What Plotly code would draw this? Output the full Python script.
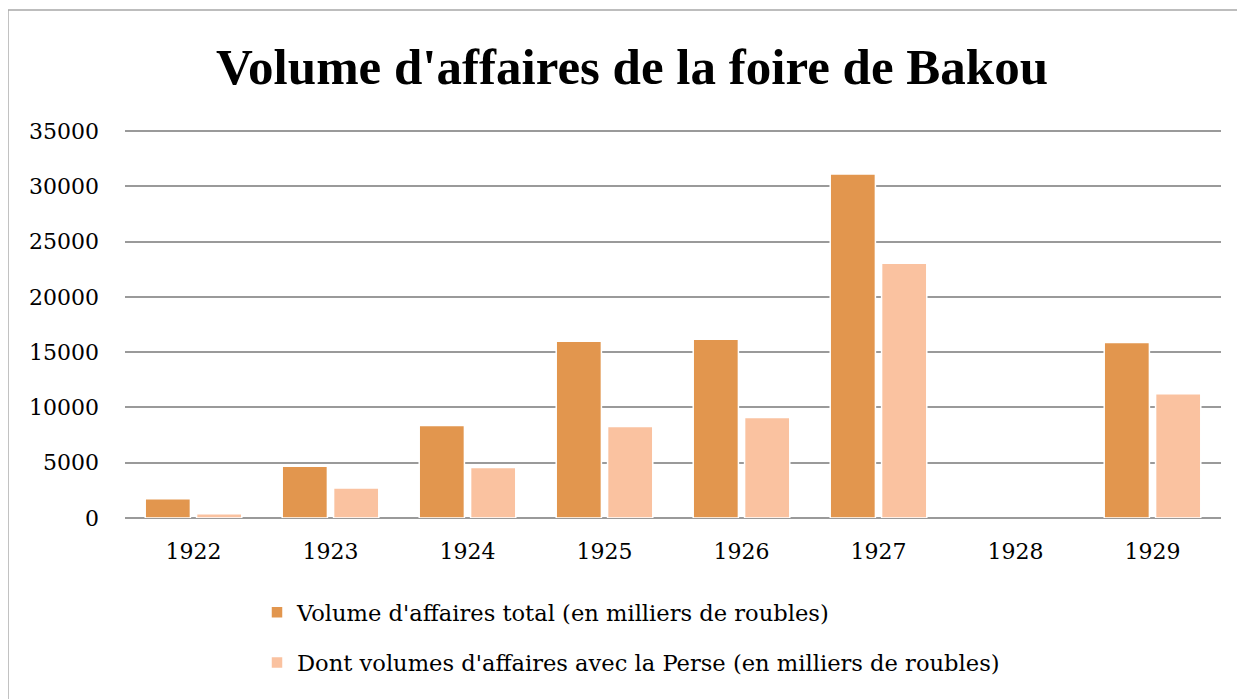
import plotly.graph_objects as go

ANNEES = ["1922", "1923", "1924", "1925", "1926", "1927", "1928", "1929"]
VOLUME_TOTAL = [1750, 4680, 8370, 15990, 16170, 31130, None, 15870]
VOLUME_PERSE = [390, 2720, 4560, 8280, 9090, 23060, None, 11240]
TICKS_Y = [0, 5000, 10000, 15000, 20000, 25000, 30000, 35000]

COLOR_TOTAL = "#E2964E"
COLOR_PERSE = "#FAC2A0"
COLOR_GRILLE = "#9a9a9a"

FUENTE_TITULO = "Liberation Serif"
FUENTE_TEXTO = "DejaVu Serif"

fig = go.Figure()
fig.add_trace(
    go.Bar(
        name="Volume d'affaires total (en milliers de roubles)",
        x=ANNEES,
        y=VOLUME_TOTAL,
        marker=dict(color=COLOR_TOTAL, line=dict(color="white", width=1.5)),
        legendgroup="a",
    )
)
fig.add_trace(
    go.Bar(
        name="Dont volumes d'affaires avec la Perse (en milliers de roubles)",
        x=ANNEES,
        y=VOLUME_PERSE,
        marker=dict(color=COLOR_PERSE, line=dict(color="white", width=1.5)),
        legendgroup="b",
    )
)

# cadre gris autour du graphique
fig.add_shape(
    type="rect",
    xref="paper",
    yref="paper",
    x0=-0.1068,
    x1=1.020,
    y0=-0.6,
    y1=(510 - 2) / 389,
    line=dict(color="#a8a8a8", width=1.5),
    layer="below",
)

# la page ajoute 8 px de marge au corps, d'où le décalage
fig.update_layout(
    width=1245,
    height=699,
    plot_bgcolor="white",
    paper_bgcolor="white",
    barmode="group",
    bargap=0.25,
    bargroupgap=0.12,
    margin=dict(l=117, r=32, t=121, b=189),
    title=dict(
        text="<b>Volume d'affaires de la foire de Bakou</b>",
        font=dict(family=FUENTE_TITULO, size=51, color="black"),
        x=(632 - 8) / 1245,
        xanchor="center",
        xref="container",
        y=1 - 58 / 699,
        yanchor="middle",
        yref="container",
    ),
    xaxis=dict(
        type="category",
        showgrid=False,
        showline=False,
        ticks="",
        tickfont=dict(family=FUENTE_TEXTO, size=22, color="black"),
        ticklabelstandoff=18,
    ),
    yaxis=dict(
        range=[0, 35200],
        tickvals=TICKS_Y,
        tickformat="d",
        showgrid=True,
        gridcolor=COLOR_GRILLE,
        gridwidth=1.5,
        zeroline=True,
        zerolinecolor=COLOR_GRILLE,
        zerolinewidth=1.5,
        showline=False,
        ticks="",
        tickfont=dict(family=FUENTE_TEXTO, size=22, color="black"),
        ticklabelstandoff=25,
    ),
    legend=dict(
        orientation="v",
        x=(257 - 125) / 1096,
        xanchor="left",
        y=1 - 583 / 699,
        yanchor="top",
        yref="container",
        tracegroupgap=18,
        font=dict(family=FUENTE_TEXTO, size=22.6, color="black"),
        traceorder="grouped",
    ),
)

fig.write_html("out.html")
